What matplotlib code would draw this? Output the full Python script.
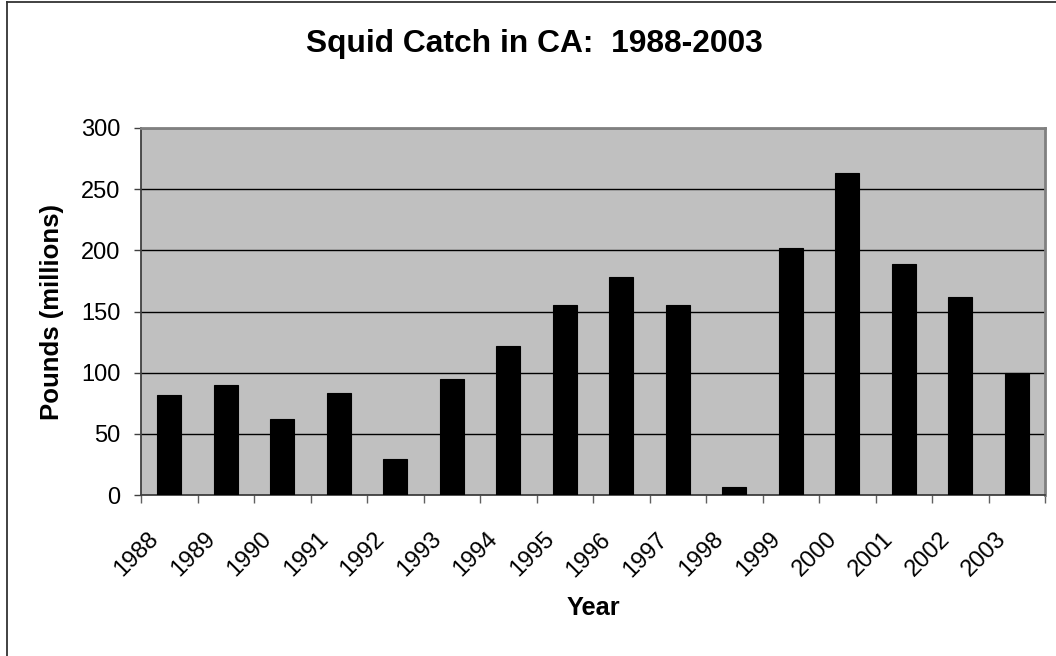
import matplotlib
matplotlib.use("Agg")
import matplotlib.pyplot as plt
from matplotlib.lines import Line2D
from matplotlib.transforms import ScaledTranslation

plt.rcParams['font.family'] = ['Liberation Sans', 'DejaVu Sans']

years = ["1988", "1989", "1990", "1991", "1992", "1993", "1994", "1995",
         "1996", "1997", "1998", "1999", "2000", "2001", "2002", "2003"]
catch_millions_lbs = [82, 90, 62, 83, 29.5, 95, 122, 155,
                      178, 155, 6.5, 202, 263, 189, 161.5, 100]
y_ticks = [0, 50, 100, 150, 200, 250, 300]

W, H = 1056, 656
fig = plt.figure(figsize=(W / 100, H / 100), dpi=100)
fig.patch.set_facecolor('white')

ax = fig.add_axes([141 / W, 1 - 495 / H, (1045 - 141) / W, (495 - 128) / H])
ax.set_facecolor('#C0C0C0')

x = list(range(len(years)))
ax.bar(x, catch_millions_lbs, width=0.42, color='black', edgecolor='black',
       linewidth=0.8, zorder=3)

ax.set_xlim(-0.5, len(years) - 0.5)
ax.set_ylim(0, 300)

# horizontal gridlines
ax.set_yticks(y_ticks)
ax.set_yticklabels([str(v) for v in y_ticks])
ax.yaxis.grid(True, color='black', linewidth=1.0, zorder=1)
ax.set_axisbelow(True)

# x ticks on category boundaries, labels at category centres
ax.set_xticks([i - 0.5 for i in range(len(years) + 1)])
ax.set_xticklabels([])
ax.set_xticks(x, minor=True)
ax.set_xticklabels(years, minor=True, rotation=45, ha='right', va='top',
                   fontsize=17)
ax.tick_params(axis='x', which='minor', length=0, pad=24)
ax.tick_params(axis='x', which='major', length=6, width=1.0, color='#606060')
ax.tick_params(axis='y', length=5, width=1.0, color='#404040', pad=10,
               labelsize=17)
shift = ScaledTranslation(-6 / 100, 0, fig.dpi_scale_trans)
for lbl in ax.get_xticklabels(minor=True):
    lbl.set_transform(lbl.get_transform() + shift)

for side in ('left', 'bottom'):
    ax.spines[side].set_color('#404040')
    ax.spines[side].set_linewidth(1.3)
for side in ('top', 'right'):
    ax.spines[side].set_color('#808080')
    ax.spines[side].set_linewidth(2.0)

fig.text(534.5 / W, 1 - 44 / H, "Squid Catch in CA:  1988-2003",
         ha='center', va='center', fontsize=22.9, fontweight='bold')
fig.text(593.5 / W, 1 - 608 / H, "Year", ha='center', va='center',
         fontsize=18.3, fontweight='bold')
fig.text(52 / W, 1 - 312 / H, "Pounds (millions)", ha='center', va='center',
         rotation=90, fontsize=18.5, fontweight='bold')

# chart-area border
fig.add_artist(Line2D([7 / W, 7 / W], [0, 1 - 1.5 / H], transform=fig.transFigure,
                      color='#333333', linewidth=1.3))
fig.add_artist(Line2D([7 / W, 1], [1 - 1.5 / H, 1 - 1.5 / H],
                      transform=fig.transFigure, color='#333333', linewidth=1.3))

fig.savefig("out.png", dpi=100)
